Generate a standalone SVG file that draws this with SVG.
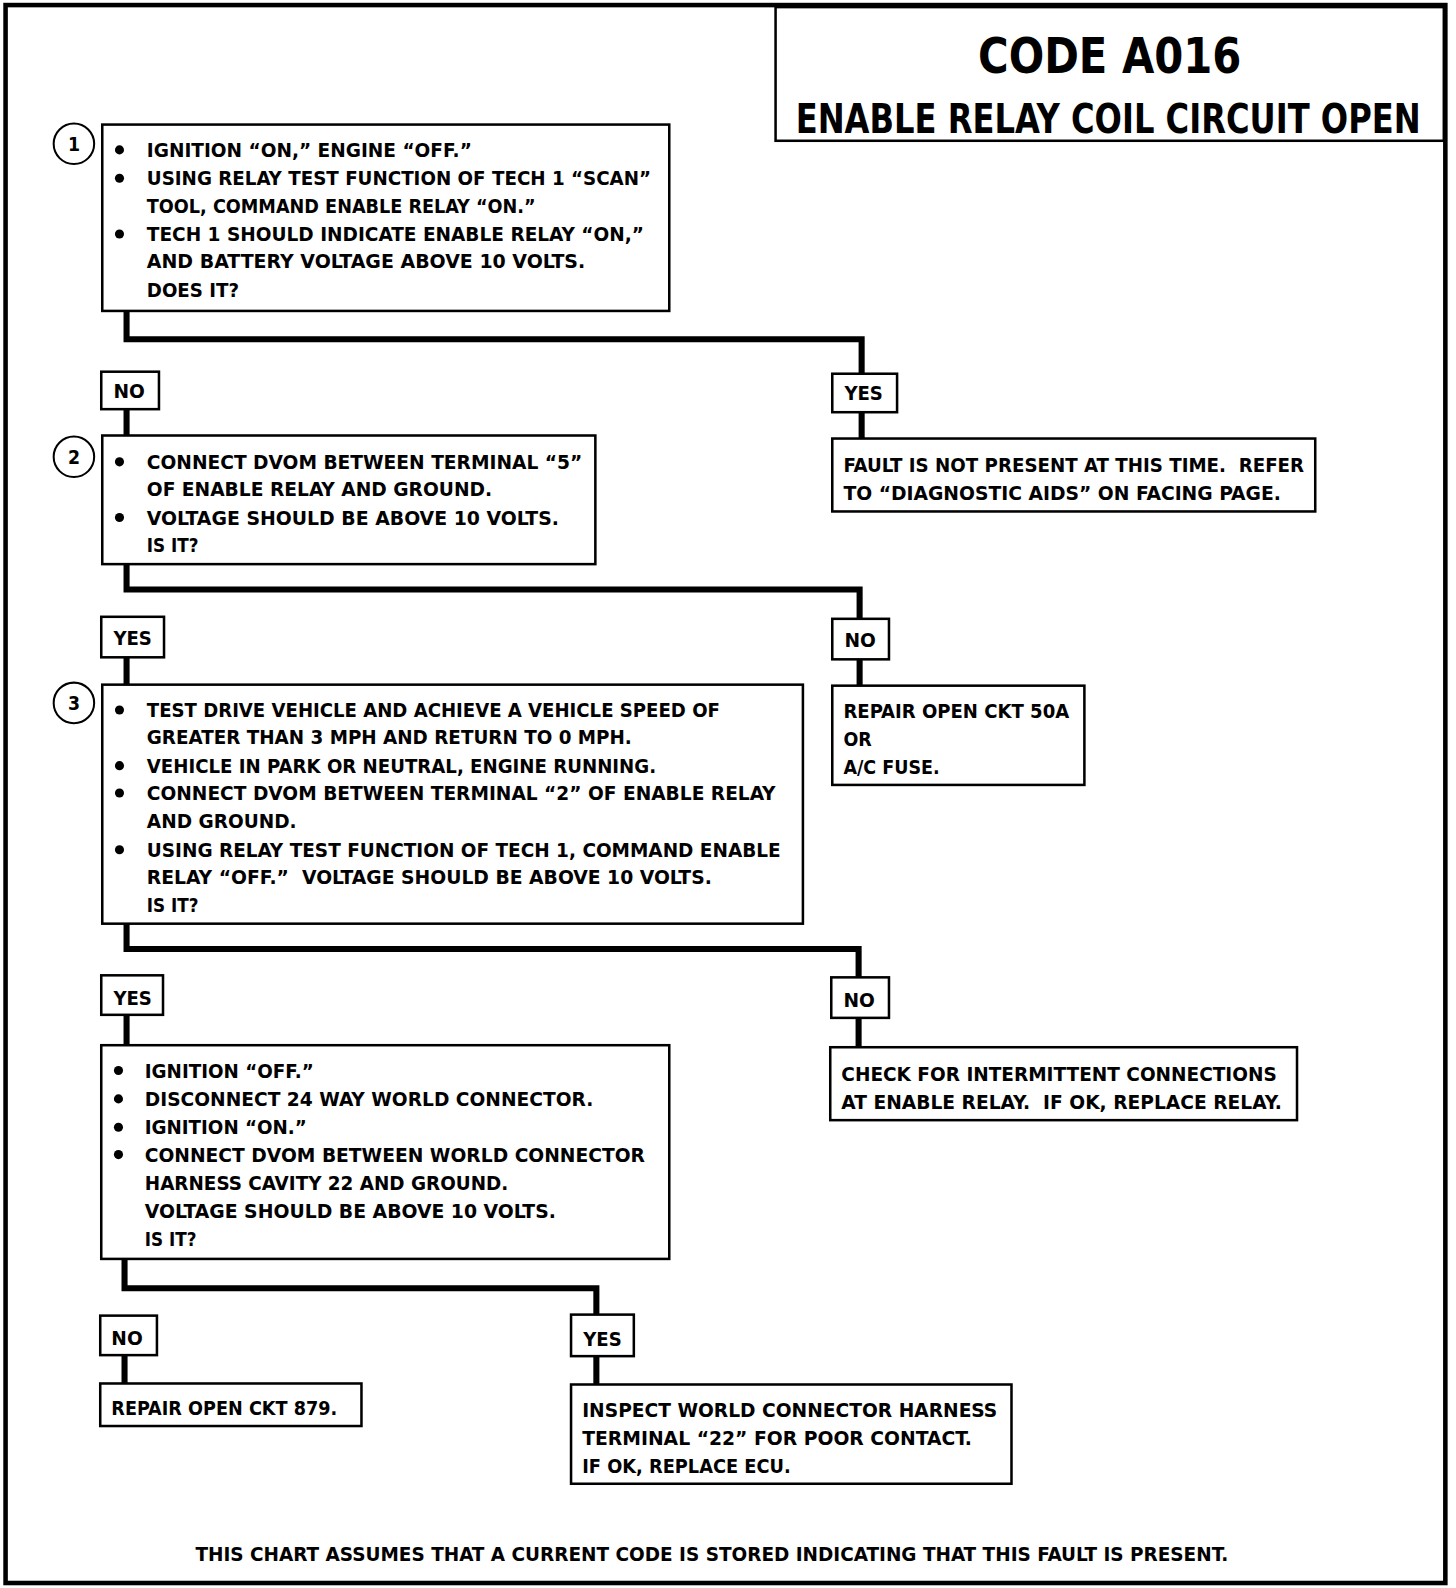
<svg xmlns="http://www.w3.org/2000/svg" width="1456" height="1588" viewBox="0 0 1456 1588">
<style>
text{font-family:"DejaVu Sans Condensed","DejaVu Sans","Liberation Sans",sans-serif;font-weight:bold;fill:#000}
.t{font-size:19px}
.box{fill:#fff;stroke:#000;stroke-width:2.5}
.lbl{fill:#fff;stroke:#000;stroke-width:2.5}
.conn{fill:none;stroke:#000;stroke-width:6;stroke-linejoin:miter}
.num{fill:#fff;stroke:#000;stroke-width:2}
.b{fill:#000}
</style>
<rect width="1456" height="1588" fill="#fff"/>
<g transform="scale(1.0125,1.0128)">
<rect x="5.5" y="5" width="1422" height="1558" fill="none" stroke="#000" stroke-width="4.5"/>
<g id="title">
<rect x="766" y="7" width="660" height="132" fill="none" stroke="#000" stroke-width="2.5"/>
<text x="1096" y="72" font-size="49" text-anchor="middle" textLength="260" lengthAdjust="spacingAndGlyphs">CODE A016</text>
<text transform="translate(1094.5,131) scale(0.862,1)" x="0" y="0" font-size="41" text-anchor="middle">ENABLE RELAY COIL CIRCUIT OPEN</text>
</g>
<g id="connectors">
<polyline class="conn" points="125,307 125,335 851,335 851,369"/>
<line class="conn" x1="125" y1="404" x2="125" y2="430"/>
<line class="conn" x1="851" y1="407" x2="851" y2="433"/>
<polyline class="conn" points="125,557 125,582 849,582 849,611"/>
<line class="conn" x1="125" y1="649" x2="125" y2="676"/>
<line class="conn" x1="849" y1="651" x2="849" y2="677"/>
<polyline class="conn" points="125,912 125,937 848,937 848,965"/>
<line class="conn" x1="125" y1="1002" x2="125" y2="1032"/>
<line class="conn" x1="848" y1="1005" x2="848" y2="1034"/>
<polyline class="conn" points="123,1243 123,1272 589,1272 589,1298"/>
<line class="conn" x1="123" y1="1338" x2="123" y2="1366"/>
<line class="conn" x1="589" y1="1339" x2="589" y2="1367"/>
</g>
<g id="step1">
<rect class="box" x="101" y="123" width="560" height="184"/>
<circle class="num" cx="73" cy="142" r="20"/>
<text class="t" x="73" y="149" text-anchor="middle">1</text>
<circle class="b" cx="118" cy="148" r="4.5"/><circle class="b" cx="118" cy="176" r="4.5"/><circle class="b" cx="118" cy="231" r="4.5"/>
<text class="t" x="145" y="155" textLength="321" lengthAdjust="spacingAndGlyphs">IGNITION “ON,” ENGINE “OFF.”</text>
<text class="t" x="145" y="183" textLength="498" lengthAdjust="spacingAndGlyphs">USING RELAY TEST FUNCTION OF TECH 1 “SCAN”</text>
<text class="t" x="145" y="210" textLength="384" lengthAdjust="spacingAndGlyphs">TOOL, COMMAND ENABLE RELAY “ON.”</text>
<text class="t" x="145" y="238" textLength="491" lengthAdjust="spacingAndGlyphs">TECH 1 SHOULD INDICATE ENABLE RELAY “ON,”</text>
<text class="t" x="145" y="265" textLength="433" lengthAdjust="spacingAndGlyphs">AND BATTERY VOLTAGE ABOVE 10 VOLTS.</text>
<text class="t" x="145" y="293" textLength="91" lengthAdjust="spacingAndGlyphs">DOES IT?</text>
</g>
<g id="no1"><rect class="lbl" x="100" y="367" width="57" height="37"/><text class="t" x="112" y="393" textLength="31" lengthAdjust="spacingAndGlyphs">NO</text></g>
<g id="yes1"><rect class="lbl" x="822" y="369" width="64" height="38"/><text class="t" x="834" y="395" textLength="38" lengthAdjust="spacingAndGlyphs">YES</text></g>
<g id="fault">
<rect class="box" x="822" y="433" width="477" height="72"/>
<text class="t" x="833" y="466" textLength="455" lengthAdjust="spacingAndGlyphs">FAULT IS NOT PRESENT AT THIS TIME.&#160; REFER</text>
<text class="t" x="833" y="494" textLength="432" lengthAdjust="spacingAndGlyphs">TO “DIAGNOSTIC AIDS” ON FACING PAGE.</text>
</g>
<g id="step2">
<rect class="box" x="101" y="430" width="487" height="127"/>
<circle class="num" cx="73" cy="451" r="20"/>
<text class="t" x="73" y="458" text-anchor="middle">2</text>
<circle class="b" cx="118" cy="456" r="4.5"/><circle class="b" cx="118" cy="511" r="4.5"/>
<text class="t" x="145" y="463" textLength="430" lengthAdjust="spacingAndGlyphs">CONNECT DVOM BETWEEN TERMINAL “5”</text>
<text class="t" x="145" y="490" textLength="341" lengthAdjust="spacingAndGlyphs">OF ENABLE RELAY AND GROUND.</text>
<text class="t" x="145" y="518" textLength="407" lengthAdjust="spacingAndGlyphs">VOLTAGE SHOULD BE ABOVE 10 VOLTS.</text>
<text class="t" x="145" y="545" textLength="51" lengthAdjust="spacingAndGlyphs">IS IT?</text>
</g>
<g id="yes2"><rect class="lbl" x="100" y="609" width="62" height="40"/><text class="t" x="112" y="637" textLength="38" lengthAdjust="spacingAndGlyphs">YES</text></g>
<g id="no2"><rect class="lbl" x="822" y="611" width="56" height="40"/><text class="t" x="834" y="639" textLength="31" lengthAdjust="spacingAndGlyphs">NO</text></g>
<g id="repair50a">
<rect class="box" x="822" y="677" width="249" height="98"/>
<text class="t" x="833" y="709" textLength="223" lengthAdjust="spacingAndGlyphs">REPAIR OPEN CKT 50A</text>
<text class="t" x="833" y="737" textLength="28" lengthAdjust="spacingAndGlyphs">OR</text>
<text class="t" x="833" y="764" textLength="95" lengthAdjust="spacingAndGlyphs">A/C FUSE.</text>
</g>
<g id="step3">
<rect class="box" x="101" y="676" width="692" height="236"/>
<circle class="num" cx="73" cy="694" r="20"/>
<text class="t" x="73" y="701" text-anchor="middle">3</text>
<circle class="b" cx="118" cy="701" r="4.5"/><circle class="b" cx="118" cy="756" r="4.5"/><circle class="b" cx="118" cy="783" r="4.5"/><circle class="b" cx="118" cy="839" r="4.5"/>
<text class="t" x="145" y="708" textLength="566" lengthAdjust="spacingAndGlyphs">TEST DRIVE VEHICLE AND ACHIEVE A VEHICLE SPEED OF</text>
<text class="t" x="145" y="735" textLength="479" lengthAdjust="spacingAndGlyphs">GREATER THAN 3 MPH AND RETURN TO 0 MPH.</text>
<text class="t" x="145" y="763" textLength="503" lengthAdjust="spacingAndGlyphs">VEHICLE IN PARK OR NEUTRAL, ENGINE RUNNING.</text>
<text class="t" x="145" y="790" textLength="621" lengthAdjust="spacingAndGlyphs">CONNECT DVOM BETWEEN TERMINAL “2” OF ENABLE RELAY</text>
<text class="t" x="145" y="818" textLength="148" lengthAdjust="spacingAndGlyphs">AND GROUND.</text>
<text class="t" x="145" y="846" textLength="626" lengthAdjust="spacingAndGlyphs">USING RELAY TEST FUNCTION OF TECH 1, COMMAND ENABLE</text>
<text class="t" x="145" y="873" textLength="558" lengthAdjust="spacingAndGlyphs">RELAY “OFF.”&#160; VOLTAGE SHOULD BE ABOVE 10 VOLTS.</text>
<text class="t" x="145" y="900" textLength="51" lengthAdjust="spacingAndGlyphs">IS IT?</text>
</g>
<g id="yes3"><rect class="lbl" x="100" y="963" width="61" height="39"/><text class="t" x="112" y="992" textLength="38" lengthAdjust="spacingAndGlyphs">YES</text></g>
<g id="no3"><rect class="lbl" x="821" y="965" width="57" height="40"/><text class="t" x="833" y="994" textLength="31" lengthAdjust="spacingAndGlyphs">NO</text></g>
<g id="check">
<rect class="box" x="820" y="1034" width="461" height="72"/>
<text class="t" x="831" y="1067" textLength="430" lengthAdjust="spacingAndGlyphs">CHECK FOR INTERMITTENT CONNECTIONS</text>
<text class="t" x="831" y="1095" textLength="435" lengthAdjust="spacingAndGlyphs">AT ENABLE RELAY.&#160; IF OK, REPLACE RELAY.</text>
</g>
<g id="step4">
<rect class="box" x="100" y="1032" width="561" height="211"/>
<circle class="b" cx="117" cy="1057" r="4.5"/><circle class="b" cx="117" cy="1085" r="4.5"/><circle class="b" cx="117" cy="1113" r="4.5"/><circle class="b" cx="117" cy="1140" r="4.5"/>
<text class="t" x="143" y="1064" textLength="167" lengthAdjust="spacingAndGlyphs">IGNITION “OFF.”</text>
<text class="t" x="143" y="1092" textLength="443" lengthAdjust="spacingAndGlyphs">DISCONNECT 24 WAY WORLD CONNECTOR.</text>
<text class="t" x="143" y="1120" textLength="160" lengthAdjust="spacingAndGlyphs">IGNITION “ON.”</text>
<text class="t" x="143" y="1147" textLength="494" lengthAdjust="spacingAndGlyphs">CONNECT DVOM BETWEEN WORLD CONNECTOR</text>
<text class="t" x="143" y="1175" textLength="359" lengthAdjust="spacingAndGlyphs">HARNESS CAVITY 22 AND GROUND.</text>
<text class="t" x="143" y="1203" textLength="406" lengthAdjust="spacingAndGlyphs">VOLTAGE SHOULD BE ABOVE 10 VOLTS.</text>
<text class="t" x="143" y="1230" textLength="51" lengthAdjust="spacingAndGlyphs">IS IT?</text>
</g>
<g id="no4"><rect class="lbl" x="99" y="1299" width="56" height="39"/><text class="t" x="110" y="1328" textLength="31" lengthAdjust="spacingAndGlyphs">NO</text></g>
<g id="yes4"><rect class="lbl" x="564" y="1298" width="62" height="41"/><text class="t" x="576" y="1329" textLength="38" lengthAdjust="spacingAndGlyphs">YES</text></g>
<g id="repair879">
<rect class="box" x="99" y="1366" width="258" height="42"/>
<text class="t" x="110" y="1397" textLength="223" lengthAdjust="spacingAndGlyphs">REPAIR OPEN CKT 879.</text>
</g>
<g id="inspect">
<rect class="box" x="564" y="1367" width="435" height="98"/>
<text class="t" x="575" y="1399" textLength="410" lengthAdjust="spacingAndGlyphs">INSPECT WORLD CONNECTOR HARNESS</text>
<text class="t" x="575" y="1427" textLength="385" lengthAdjust="spacingAndGlyphs">TERMINAL “22” FOR POOR CONTACT.</text>
<text class="t" x="575" y="1454" textLength="206" lengthAdjust="spacingAndGlyphs">IF OK, REPLACE ECU.</text>
</g>
<g id="footer">
<text class="t" x="193" y="1541" textLength="1020" lengthAdjust="spacingAndGlyphs">THIS CHART ASSUMES THAT A CURRENT CODE IS STORED INDICATING THAT THIS FAULT IS PRESENT.</text>
</g>
</g>
</svg>
